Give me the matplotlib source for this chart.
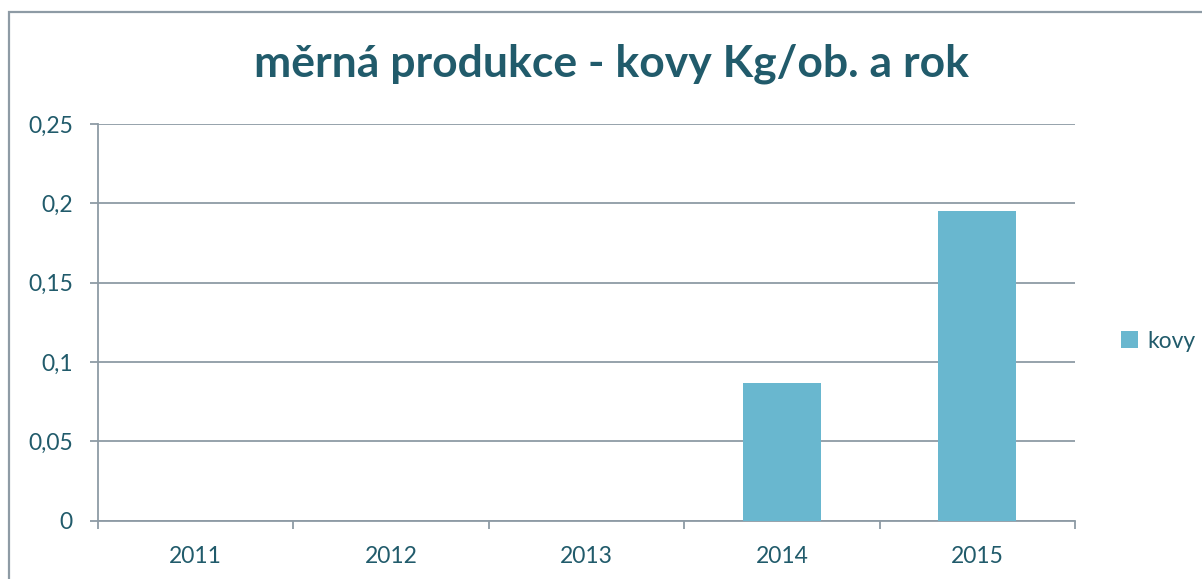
import matplotlib
matplotlib.use("Agg")
import matplotlib.pyplot as plt
from matplotlib.patches import Rectangle

years = ["2011", "2012", "2013", "2014", "2015"]
kovy = [0, 0, 0, 0.087, 0.195]
yticks = [0, 0.05, 0.1, 0.15, 0.2, 0.25]
ytick_labels = ["0", "0,05", "0,1", "0,15", "0,2", "0,25"]
title = "měrná produkce - kovy Kg/ob. a rok"
series_name = "kovy"

TXT = "#215B6B"
GRID = "#8E9BA5"
BAR = "#69B7CF"

plt.rcParams['font.family'] = ['Lato', 'DejaVu Sans']

fig = plt.figure(figsize=(12.02, 5.79), dpi=100)
fig.patches.append(Rectangle((9/1202, -0.1), 1.2, 1.1 - 12/579, transform=fig.transFigure,
                             fill=False, edgecolor=GRID, linewidth=1.6, zorder=0))

ax = fig.add_axes([98/1202, 1 - 520.7/579, (1075-98)/1202, (520.7-124)/579])
x = list(range(len(years)))
ax.bar(x, kovy, width=0.4, color=BAR, label=series_name, zorder=3)

ax.set_xlim(-0.5, len(years) - 0.5)
ax.set_ylim(0, 0.25)
ax.set_yticks(yticks)
ax.set_yticklabels(ytick_labels)
ax.set_xticks([i - 0.5 for i in range(len(years) + 1)])
ax.set_xticklabels([])
ax.set_xticks(x, minor=True)
ax.set_xticklabels(years, minor=True)

ax.tick_params(axis='y', length=6, width=1.3, color=GRID, labelcolor=TXT, labelsize=16.5, pad=12)
ax.tick_params(axis='x', which='major', length=6, width=1.3, color=GRID, direction='out')
ax.tick_params(axis='x', which='minor', length=0, labelcolor=TXT, labelsize=16.5, pad=18)

ax.grid(axis='y', color=GRID, linewidth=1.3, zorder=0)
ax.set_axisbelow(True)
for s in ['top', 'right']:
    ax.spines[s].set_visible(False)
for s in ['left', 'bottom']:
    ax.spines[s].set_color(GRID)
    ax.spines[s].set_linewidth(1.3)

fig.text(612/1202, 1 - 64/579, title, ha='center', va='center', fontsize=32,
         fontweight='bold', color=TXT)

leg = ax.legend(loc='center left', bbox_to_anchor=(1112/1202, 1 - 341/579),
                bbox_transform=fig.transFigure, frameon=False, fontsize=16.5,
                handlelength=0.75, handleheight=0.75, handletextpad=0.4, borderaxespad=0)
for t in leg.get_texts():
    t.set_color(TXT)

fig.savefig("out.png", dpi=100)
